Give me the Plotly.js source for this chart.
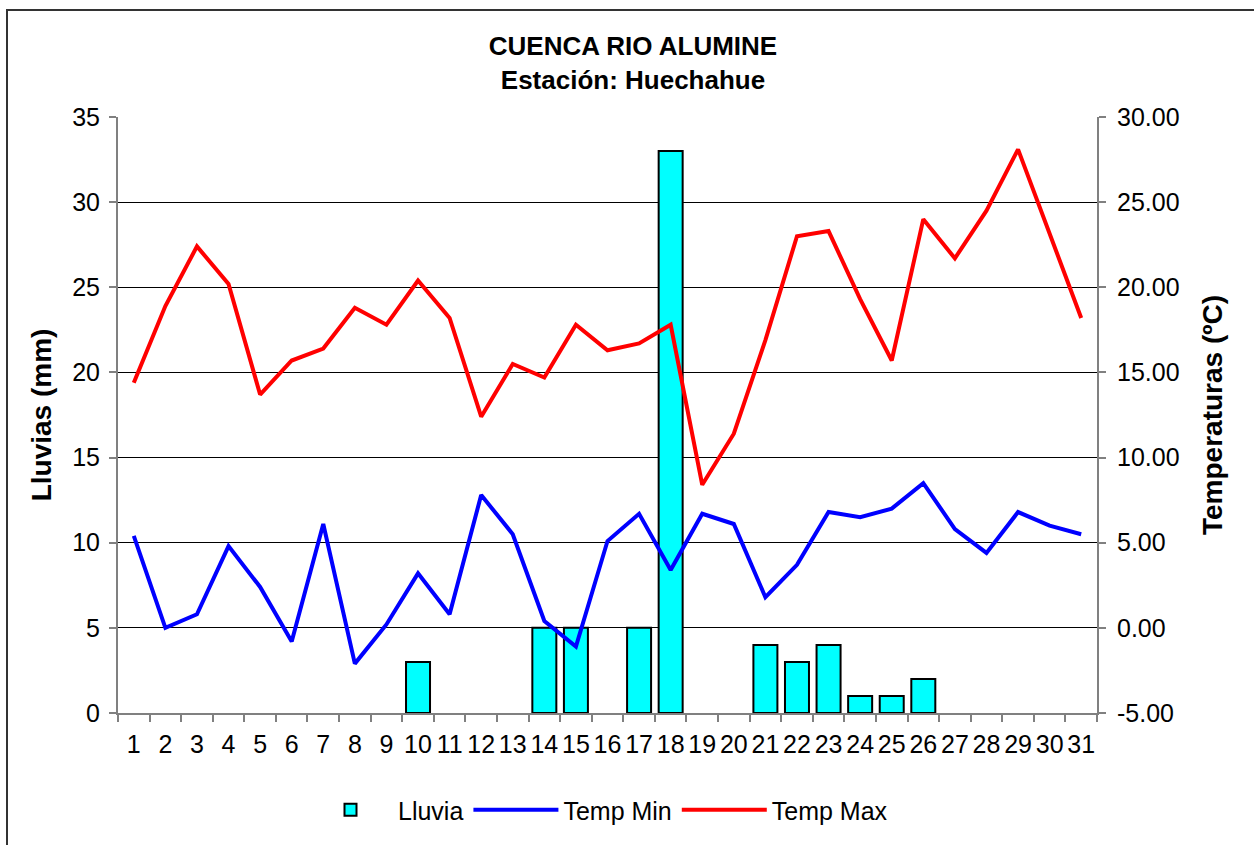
<!DOCTYPE html>
<html>
<head>
<meta charset="utf-8">
<script src="https://cdn.plot.ly/plotly-3.0.1.min.js"></script>
<style>
  html, body { margin: 0; padding: 0; background: #fff; overflow: hidden; }
  #wrap { position: relative; width: 1254px; height: 845px; overflow: hidden; }
  #chart { position: absolute; left: 0; top: 0; width: 1254px; height: 845px; }
  #frame { position: absolute; left: 6px; top: 9px; width: 1300px; height: 900px;
           border-top: 2px solid #333; border-left: 2px solid #333; pointer-events: none; }
</style>
</head>
<body>
<div id="wrap">
  <div id="chart"></div>
  <div id="frame"></div>
</div>
<script>
const days = ["1","2","3","4","5","6","7","8","9","10","11","12","13","14","15","16",
              "17","18","19","20","21","22","23","24","25","26","27","28","29","30","31"];
const lluvia = [0,0,0,0,0,0,0,0,0,3,0,0,0,5,5,0,5,33,0,0,4,3,4,1,1,2,0,0,0,0,0];
const tempMin = [5.4,0.0,0.8,4.8,2.4,-0.8,6.1,-2.1,0.2,3.2,0.8,7.8,5.5,0.4,-1.1,5.1,
                 6.7,3.4,6.7,6.1,1.8,3.7,6.8,6.5,7.0,8.5,5.8,4.4,6.8,6.0,5.5];
const tempMax = [14.4,18.9,22.4,20.2,13.7,15.7,16.4,18.8,17.8,20.4,18.2,12.4,15.5,14.7,17.8,16.3,
                 16.7,17.8,8.4,11.4,16.9,23.0,23.3,19.3,15.7,24.0,21.7,24.5,28.1,23.1,18.2];
const leftTicks = [0,5,10,15,20,25,30,35];
const rightTicks = [-5,0,5,10,15,20,25,30];

const FONT = "Liberation Sans, Arial, sans-serif";

// days without rain are not drawn as bars (as in the original chart)
const rainDays = days.filter((d, i) => lluvia[i] > 0);
const rainVals = lluvia.filter(v => v > 0);

const traces = [
  { type: "bar", name: "Lluvia", x: rainDays, y: rainVals, yaxis: "y",
    marker: { color: "#00FFFF", line: { color: "#000000", width: 2 } } },
  { type: "scatter", mode: "lines", name: "Temp Min", x: days, y: tempMin, yaxis: "y2",
    line: { color: "#0000FF", width: 4 } },
  { type: "scatter", mode: "lines", name: "Temp Max", x: days, y: tempMax, yaxis: "y2",
    line: { color: "#FF0000", width: 4 } }
];

const layout = {
  width: 1254, height: 845,
  paper_bgcolor: "#FFFFFF", plot_bgcolor: "#FFFFFF",
  margin: { l: 118, r: 157, t: 117, b: 132 },
  font: { family: FONT, size: 25, color: "#000" },
  bargap: 0.24,
  showlegend: true,
  title: {
    text: "<b>CUENCA RIO ALUMINE</b><br><b>Estación: Huechahue</b>",
    font: { family: FONT, size: 26, color: "#000" },
    xref: "container", x: 633 / 1254, xanchor: "center",
    yref: "container", y: 1 - 55 / 845, yanchor: "top"
  },
  xaxis: {
    type: "category", categoryorder: "array", categoryarray: days, range: [-0.5, 30.5],
    tickson: "boundaries", ticks: "outside", ticklen: 7, tickcolor: "#808080", tickwidth: 2,
    showline: true, linecolor: "#808080", linewidth: 2,
    showgrid: false, tickfont: { family: FONT, size: 25 },
    ticklabelstandoff: 8,
    tickangle: 0, automargin: false
  },
  yaxis: {
    range: [0, 35], tickvals: leftTicks, ticktext: leftTicks.map(String),
    ticks: "outside", ticklen: 7, tickcolor: "#808080", tickwidth: 2,
    showline: true, linecolor: "#808080", linewidth: 2,
    showgrid: true, gridcolor: "#000000", gridwidth: 1, zeroline: false,
    tickfont: { family: FONT, size: 25 }, ticklabelstandoff: 4,
    title: { text: "<b>Lluvias (mm)</b>", font: { family: FONT, size: 28 }, standoff: 12 },
    automargin: false
  },
  yaxis2: {
    overlaying: "y", side: "right", range: [-5, 30],
    tickvals: rightTicks, ticktext: rightTicks.map(v => v.toFixed(2)),
    ticks: "outside", ticklen: 7, tickcolor: "#808080", tickwidth: 2,
    showline: true, linecolor: "#808080", linewidth: 2,
    showgrid: false, zeroline: false,
    tickfont: { family: FONT, size: 25 }, ticklabelstandoff: 6,
    title: { text: "<b>Temperaturas (ºC)</b>", font: { family: FONT, size: 28 }, standoff: 24 },
    automargin: false
  },
  legend: {
    orientation: "h", xref: "container", yref: "container",
    x: 598 / 1254, xanchor: "center", y: 1 - 810 / 845, yanchor: "middle",
    font: { family: FONT, size: 25 }, traceorder: "normal",
    itemwidth: 85, bgcolor: "rgba(0,0,0,0)"
  }
};

Plotly.newPlot("chart", traces, layout, { displayModeBar: false, staticPlot: true });
</script>
</body>
</html>
